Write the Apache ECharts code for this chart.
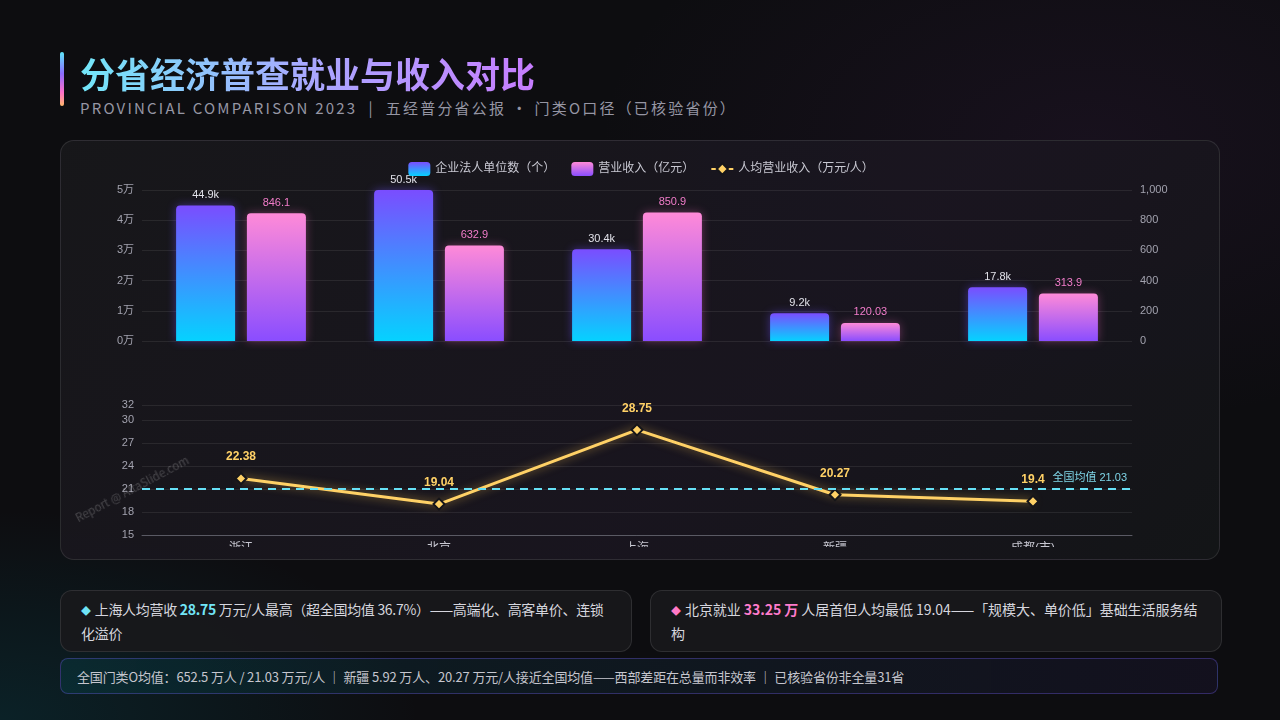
<!DOCTYPE html>
<html>
<head>
<meta charset="utf-8">
<script src="https://cdn.jsdelivr.net/npm/echarts@6/dist/echarts.min.js"></script>
<style>
  html, body { margin: 0; padding: 0; }
  body {
    width: 1280px; height: 720px; overflow: hidden; position: relative;
    font-family: "Noto Sans CJK SC", "Noto Sans", sans-serif;
    background:
      radial-gradient(ellipse 600px 300px at 0% 100%, rgba(0, 140, 160, 0.16), transparent 70%),
      radial-gradient(ellipse 700px 400px at 85% 20%, rgba(90, 40, 110, 0.14), transparent 70%),
      #0d0d10;
  }
  .accent {
    position: absolute; left: 60px; top: 52px; width: 4px; height: 54px; border-radius: 2px;
    background: linear-gradient(180deg, #5ee7f9, #8b6cff 40%, #ff6fc8 75%, #ffb86b);
  }
  .title {
    position: absolute; left: 80px; top: 49px; font-size: 35px; font-weight: 700; line-height: 48px;
    background: linear-gradient(90deg, #72e6f8, #a9a8ff 50%, #c77dff);
    -webkit-background-clip: text; background-clip: text; color: transparent;
  }
  .sub {
    position: absolute; left: 80px; top: 97px; font-size: 15px; letter-spacing: 2.2px; color: #9696a4;
  }
  .card {
    position: absolute; left: 60px; top: 140px; width: 1158px; height: 418px;
    border: 1px solid rgba(255, 255, 255, 0.10); border-radius: 14px; overflow: hidden;
    background: linear-gradient(135deg, rgba(24, 24, 27, 0.95), rgba(26, 22, 32, 0.95) 60%, rgba(20, 22, 24, 0.95));
  }
  #chart { position: absolute; left: 0; top: 0; width: 1160px; height: 406px; }
  .wm {
    position: absolute; left: 76px; top: 510px; font-size: 11.5px; color: rgba(255, 255, 255, 0.2);
    transform: rotate(-28deg); transform-origin: left center; white-space: nowrap;
  }
  .note {
    position: absolute; top: 590px; width: 530px; height: 60px; padding: 0 20px; box-sizing: content-box;
    border: 1px solid rgba(255, 255, 255, 0.10); border-radius: 12px;
    background: rgba(24, 24, 28, 0.9);
    font-size: 14px; color: #d6d6de; line-height: 23px; letter-spacing: -0.3px;
    display: flex; align-items: center;
  }
  .note span.t { display: block; }
  .dot-c { color: #6fe3f6; font-size: 10px; margin-right: 4px; }
  .dot-p { color: #ff79c6; font-size: 10px; margin-right: 4px; }
  .hc { color: #72e6f8; font-weight: 700; }
  .hp { color: #ff7ccc; font-weight: 700; }
  .bar {
    position: absolute; left: 60px; top: 658px; width: 1158px; height: 36px;
    border: 1px solid rgba(120, 100, 255, 0.32); border-radius: 8px;
    background: linear-gradient(90deg, rgba(0, 120, 130, 0.16), rgba(40, 30, 70, 0.25));
    font-size: 13px; color: #c6c6ce; line-height: 36px; padding-left: 16px; box-sizing: border-box;
    letter-spacing: -0.15px;
  }
</style>
</head>
<body>
<div class="accent"></div>
<div class="title">分省经济普查就业与收入对比</div>
<div class="sub">PROVINCIAL COMPARISON 2023 &nbsp;|&nbsp; 五经普分省公报 · 门类O口径（已核验省份）</div>
<div class="card"><div id="chart"></div></div>
<div class="wm">Report @ AltaSlide.com</div>
<div class="note" style="left:60px;"><span class="t"><span class="dot-c">◆</span>上海人均营收 <span class="hc">28.75</span> 万元/人最高（超全国均值 36.7%）——高端化、高客单价、连锁化溢价</span></div>
<div class="note" style="left:650px; letter-spacing:-0.05px;"><span class="t"><span class="dot-p">◆</span>北京就业 <span class="hp">33.25 万</span> 人居首但人均最低 19.04——「规模大、单价低」基础生活服务结构</span></div>
<div class="bar">全国门类O均值：652.5 万人 / 21.03 万元/人 ｜ 新疆 5.92 万人、20.27 万元/人接近全国均值——西部差距在总量而非效率 ｜ 已核验省份非全量31省</div>

<script>
var provinces = ['浙江', '北京', '上海', '新疆', '成都(市)'];
var units = [44900, 50500, 30400, 9200, 17800];
var revenue = [846.1, 632.9, 850.9, 120.03, 313.9];
var perCapita = [22.38, 19.04, 28.75, 20.27, 19.4];
var nationalAvg = 21.03;

var axisText = { color: '#a2a2ae', fontSize: 11 };
var splitLine = { lineStyle: { color: 'rgba(255,255,255,0.08)' } };

var chart = echarts.init(document.getElementById('chart'));

var option = {
    backgroundColor: 'transparent',
    textStyle: { fontFamily: '"Liberation Sans", "Noto Sans CJK SC", sans-serif' },
    legend: {
        top: 16,
        left: 'center',
        itemWidth: 22,
        itemHeight: 14,
        itemGap: 16,
        textStyle: { color: '#c8c8d2', fontSize: 12 },
        data: [
            { name: '企业法人单位数（个）', icon: 'roundRect' },
            { name: '营业收入（亿元）', icon: 'roundRect' },
            { name: '人均营业收入（万元/人）' }
        ]
    },
    grid: [
        { left: 81, right: 89, top: 49, height: 151, outerBoundsMode: 'none' },
        { left: 81, right: 89, top: 264, height: 130, outerBoundsMode: 'none' }
    ],
    xAxis: [
        {
            type: 'category', gridIndex: 0, data: provinces,
            axisLine: { show: false }, axisTick: { show: false }, axisLabel: { show: false }
        },
        {
            type: 'category', gridIndex: 1, data: provinces,
            axisLine: { lineStyle: { color: '#5a5a64' } },
            axisTick: { lineStyle: { color: '#5a5a64' } },
            axisLabel: { color: '#c8c8d2', fontSize: 12, margin: 8 }
        }
    ],
    yAxis: [
        {
            type: 'value', gridIndex: 0, min: 0, max: 50000, interval: 10000,
            axisLabel: Object.assign({ formatter: function (v) { return (v / 10000) + '万'; } }, axisText),
            splitLine: splitLine
        },
        {
            type: 'value', gridIndex: 0, min: 0, max: 1000, interval: 200, position: 'right',
            axisLabel: axisText,
            splitLine: { show: false }
        },
        {
            type: 'value', gridIndex: 1, min: 15, max: 32, interval: 3,
            axisLabel: axisText,
            splitLine: splitLine
        }
    ],
    series: [
        {
            name: '企业法人单位数（个）',
            type: 'bar',
            xAxisIndex: 0, yAxisIndex: 0,
            barWidth: 59,
            barGap: '20%',
            data: units,
            itemStyle: {
                borderRadius: [4, 4, 0, 0],
                color: new echarts.graphic.LinearGradient(0, 0, 0, 1, [
                    { offset: 0, color: '#7a4dff' },
                    { offset: 1, color: '#05d2ff' }
                ]),
                shadowBlur: 10,
                shadowColor: 'rgba(110, 80, 255, 0.45)'
            },
            label: {
                show: true, position: 'top', color: '#e2e2ea', fontSize: 11,
                formatter: function (p) { return (p.value / 1000).toFixed(1) + 'k'; }
            }
        },
        {
            name: '营业收入（亿元）',
            type: 'bar',
            xAxisIndex: 0, yAxisIndex: 1,
            barWidth: 59,
            data: revenue,
            itemStyle: {
                borderRadius: [4, 4, 0, 0],
                color: new echarts.graphic.LinearGradient(0, 0, 0, 1, [
                    { offset: 0, color: '#ff8ad8' },
                    { offset: 1, color: '#8a4dff' }
                ]),
                shadowBlur: 10,
                shadowColor: 'rgba(255, 110, 200, 0.35)'
            },
            label: { show: true, position: 'top', color: '#f27cca', fontSize: 11 }
        },
        {
            name: '人均营业收入（万元/人）',
            type: 'line',
            xAxisIndex: 1, yAxisIndex: 2,
            data: perCapita,
            symbol: 'diamond',
            symbolSize: 11,
            lineStyle: { color: '#ffd166', width: 3, shadowBlur: 10, shadowColor: 'rgba(255, 200, 80, 0.6)' },
            itemStyle: { color: '#ffd166', borderColor: '#15151a', borderWidth: 2 },
            label: { show: true, position: 'top', distance: 9, color: '#ffd166', fontSize: 12, fontWeight: 'bold' },
            markLine: {
                silent: true,
                symbol: 'none',
                data: [{ yAxis: nationalAvg }],
                lineStyle: { color: '#66e0f6', type: [8, 6], width: 2 },
                label: {
                    position: 'insideEndTop',
                    formatter: '全国均值 ' + nationalAvg,
                    color: '#7fd6e8',
                    fontSize: 11
                }
            }
        }
    ]
};

chart.setOption(option);
</script>
</body>
</html>
